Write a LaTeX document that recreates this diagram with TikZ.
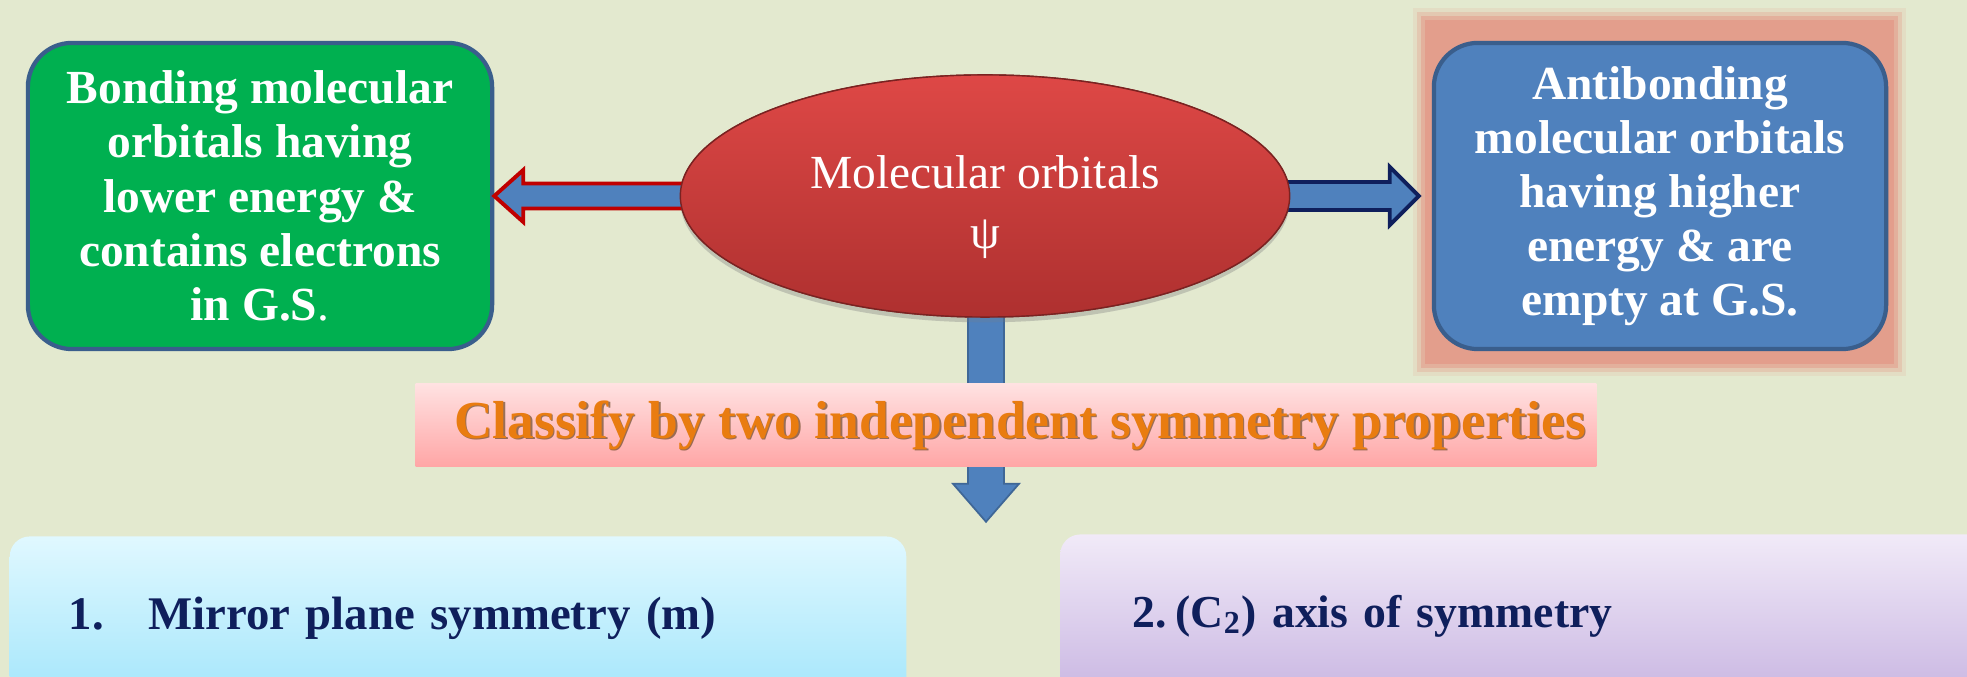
\documentclass[tikz,border=0pt]{standalone}
\usepackage{fontspec}
\setmainfont{Liberation Serif}
\usetikzlibrary{shapes.geometric,calc,shadows}
\definecolor{fondo}{HTML}{E3E9CF}
\definecolor{verde}{HTML}{00B050}
\definecolor{azul}{HTML}{4F81BD}
\definecolor{bordeAzul}{HTML}{3A5E8C}
\definecolor{rojoClaro}{HTML}{DE4846}
\definecolor{rojoOscuro}{HTML}{AE302F}
\definecolor{granate}{HTML}{C00000}
\definecolor{marino}{HTML}{0F1F5C}
\definecolor{salmon}{HTML}{E39A88}
\definecolor{naranja}{HTML}{E97C10}
\definecolor{sombra}{HTML}{6E4A2A}
\definecolor{rosaClaro}{HTML}{FFE2E2}
\definecolor{rosa}{HTML}{FFA6A6}
\definecolor{celesteClaro}{HTML}{E0F8FF}
\definecolor{celeste}{HTML}{A4E6FB}
\definecolor{lilaClaro}{HTML}{F1EAF8}
\definecolor{lila}{HTML}{C9B6E2}
\tikzset{
caja/.style={rounded corners=0.44cm,draw=bordeAzul,line width=1.2pt,text=white,align=center,font=\fontsize{13.5}{15.4}\selectfont\bfseries,minimum height=3.06cm,inner sep=0pt},
cajaEnlace/.style={caja,fill=verde,minimum width=4.64cm},
cajaAntienlace/.style={caja,fill=azul,minimum width=4.52cm},
orbital/.style={ellipse,draw=rojoOscuro!70!black,line width=0.4pt,top color=rojoClaro,bottom color=rojoOscuro,minimum width=6.09cm,minimum height=2.42cm,drop shadow={shadow xshift=0pt,shadow yshift=-1.5pt,opacity=0.2}},
textoOrbital/.style={text=white,align=center,font=\fontsize{13.5}{17}\selectfont},
flecha/.style={fill=azul,draw=azul!80!black,line width=0.5pt,line join=miter},
flechaIzq/.style={flecha,draw=granate,line width=1.1pt},
flechaDer/.style={flecha,draw=marino,line width=1.1pt},
franja/.style={top color=rosaClaro,bottom color=rosa,minimum width=11.8cm,minimum height=0.83cm,inner sep=0pt},
lema/.style={font=\fontsize{15.2}{16}\selectfont\bfseries},
cajaAbajo/.style={rounded corners=0.2cm,minimum height=1.63cm,inner ysep=0pt,align=left,text=marino,font=\fontsize{13.3}{15}\selectfont\bfseries},
brillo/.style={fill=salmon}
}
\begin{document}
\begin{tikzpicture}[x=0.01cm,y=-0.01cm]
    \clip (0,0) rectangle (1967,677);
    \fill[fondo] (0,0) rectangle (1967,677);

    \node[cajaEnlace] (enlace) at (260,196) {Bonding molecular\\orbitals having\\lower energy \&\\contains electrons\\in G.S{\mdseries.}};
    \path (1660,196) node[cajaAntienlace] (antienlace) {};

    % brillo alrededor de la caja azul
    \foreach \d/\o in {0/0.15,4/0.3,8/0.5,12/0.8}{
        \fill[brillo,opacity=\o] ($(antienlace.north west)+(-19+\d,-33+\d)$) rectangle ($(antienlace.south east)+(18-\d,25-\d)$);
    }

    \node[orbital] (orbitales) at (985,196) {};
    \coordinate (puntaDer) at ($(antienlace.west)+(-13,0)$);
    \coordinate (puntaBaja) at ($(orbitales.south)+(1,204)$);

    \draw[flechaIzq] (enlace.east) -- ++(29,-26) -- ++(0,13.5) -- ($(orbitales.west)+(25,-12.5)$)
        -- ++(0,25) -- ($(enlace.east)+(29,12.5)$) -- ++(0,13.5) -- cycle;
    \draw[flechaDer] ($(orbitales.east)+(-25,-14)$) -- ($(puntaDer)+(-29,-14)$) -- ++(0,-15) -- (puntaDer)
        -- ++(-29,29) -- ++(0,-15) -- ($(orbitales.east)+(-25,14)$) -- cycle;
    \draw[flecha] ($(orbitales.south)+(-17,-15)$) -- ($(puntaBaja)+(-18,-38)$) -- ++(-15,0) -- (puntaBaja)
        -- ++(33,-38) -- ++(-15,0) -- ($(orbitales.south)+(19,-15)$) -- cycle;

    \node[orbital] at (orbitales) {};
    \node[textoOrbital] (psi) at ($(orbitales)+(0,11)$) {Molecular orbitals\\ψ};
    \node[cajaAntienlace] at (antienlace) {Antibonding\\molecular orbitals\\having higher\\energy \& are\\empty at G.S.};

    \node[franja] (franja) at (1006,425) {};
    \node[lema,text=sombra,opacity=0.7] at ($(franja)+(15.5,1.5)$) {Classify by two independent symmetry properties};
    \node[lema,text=naranja] (lema) at ($(franja)+(14,0)$) {Classify by two independent symmetry properties};

    \node[cajaAbajo,top color=celesteClaro,bottom color=celeste,minimum width=8.96cm,text width=7.78cm,inner xsep=0.59cm]
        (espejo) at (458,618) {1.\hspace{0.95em}Mirror plane symmetry (m)};
    \node[cajaAbajo,top color=lilaClaro,bottom color=lila,minimum width=9.29cm,text width=7.85cm,inner xsep=0.72cm,font=\fontsize{13}{15}\selectfont\bfseries]
        (eje) at (1525,616) {2.\hspace{0.2em}(C\textsubscript{2}) axis of symmetry};
\end{tikzpicture}
\end{document}
